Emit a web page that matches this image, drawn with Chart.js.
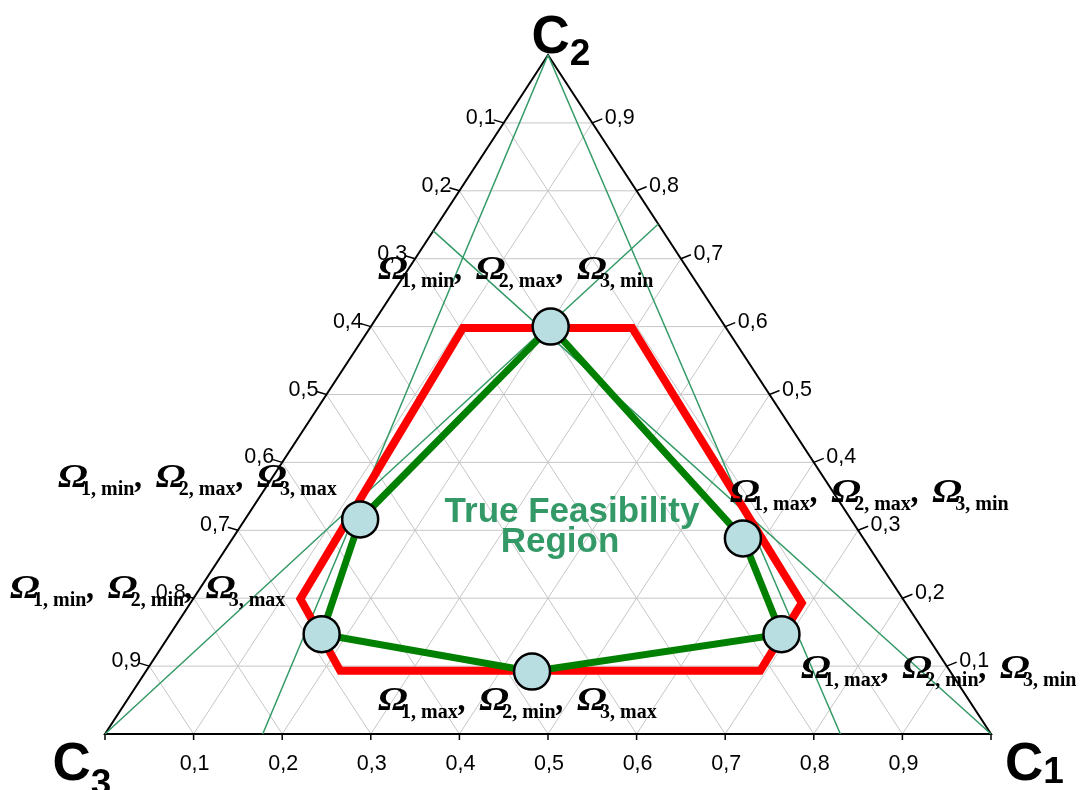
<!DOCTYPE html>
<html>
<head>
<meta charset="utf-8">
<script src="https://cdn.jsdelivr.net/npm/chart.js@4.4.1/dist/chart.umd.min.js"></script>
<style>
  html, body { margin: 0; padding: 0; background: #ffffff; }
  canvas { display: block; }
</style>
</head>
<body>
<canvas id="chart" width="1082" height="790"></canvas>
<script>
// ---- DATA (ternary compositions given as [c1, c2, c3]) ----
const tickValues = [0.1, 0.2, 0.3, 0.4, 0.5, 0.6, 0.7, 0.8, 0.9];
const tickLabels = ['0,1', '0,2', '0,3', '0,4', '0,5', '0,6', '0,7', '0,8', '0,9'];
const vertexNames = ['C1', 'C2', 'C3'];
const vertices = [[1, 0, 0], [0, 1, 0], [0, 0, 1]];

// thin green bound lines (ratio lines from the vertices)
const boundLines = [
  [[0, 1, 0], [0.178, 0, 0.822]],
  [[0, 1, 0], [0.830, 0, 0.170]],
  [[0, 0, 1], [0.249, 0.751, 0]],
  [[1, 0, 0], [0, 0.741, 0.259]]
];

// red polygon
const outerRegion = [
  [0.105, 0.598, 0.297],
  [0.296, 0.598, 0.106],
  [0.690, 0.193, 0.117],
  [0.693, 0.093, 0.214],
  [0.219, 0.093, 0.688],
  [0.121, 0.199, 0.680]
];

// green polygon / corner circles (true feasibility region)
const trueRegion = [
  [0.203, 0.600, 0.197],
  [0.576, 0.288, 0.136],
  [0.690, 0.147, 0.163],
  [0.436, 0.092, 0.472],
  [0.171, 0.147, 0.682],
  [0.130, 0.316, 0.554]
];

// corner labels: bounds of Ω1, Ω2, Ω3 for each corner of trueRegion
const cornerBounds = [
  ['min', 'max', 'min'],
  ['max', 'max', 'min'],
  ['max', 'min', 'min'],
  ['max', 'min', 'max'],
  ['min', 'min', 'max'],
  ['min', 'max', 'max']
];
const regionTitle = ['True Feasibility', 'Region'];

// ---- helpers ----
const toXY = c => ({ x: c[0] + c[1] / 2, y: c[1] });

function lineDataset(points, color, width, order, closed) {
  let pts = points.map(toXY);
  if (closed) pts = pts.concat([pts[0], pts[1]]);
  return {
    data: pts, showLine: true, fill: false,
    borderColor: color, borderWidth: width,
    pointRadius: 0, pointHoverRadius: 0,
    borderJoinStyle: 'miter', borderCapStyle: 'butt',
    tension: 0, order: order, clip: false
  };
}

const datasets = [];
// grid
tickValues.forEach(v => {
  datasets.push(lineDataset([[0, v, 1 - v], [1 - v, v, 0]], '#c6c6c6', 1, 6));
  datasets.push(lineDataset([[v, 0, 1 - v], [v, 1 - v, 0]], '#c6c6c6', 1, 6));
  datasets.push(lineDataset([[1 - v, 0, v], [0, 1 - v, v]], '#c6c6c6', 1, 6));
});
// triangle
datasets.push(lineDataset([vertices[2], vertices[0], vertices[1], vertices[2], vertices[0]], '#000000', 2, 5));
// bound lines
boundLines.forEach(l => datasets.push(lineDataset(l, '#339966', 1.5, 4)));
// red polygon
datasets.push(lineDataset(outerRegion, '#ff0000', 8, 3, true));
// green polygon
datasets.push(lineDataset(trueRegion, '#008000', 7, 2, true));
// circles
datasets.push({
  data: trueRegion.map(toXY), showLine: false,
  pointRadius: 18, pointHoverRadius: 18,
  pointBackgroundColor: '#b9dee2', pointBorderColor: '#000000', pointBorderWidth: 2.5,
  order: 1, clip: false
});

// ---- annotation plugin ----
const textPlugin = {
  id: 'ternaryText',
  afterDatasetsDraw(chart) {
    const ctx = chart.ctx;
    const sx = chart.scales.x, sy = chart.scales.y;
    const px = c => [sx.getPixelForValue(c[0] + c[1] / 2), sy.getPixelForValue(c[1])];
    ctx.save();

    // tick marks and tick labels
    const tickFont = '21.5px "Liberation Sans", Arial, sans-serif';
    ctx.strokeStyle = '#000';
    ctx.lineWidth = 1.5;
    ctx.fillStyle = '#000';
    ctx.font = tickFont;
    ctx.textBaseline = 'alphabetic';
    tickValues.forEach((v, i) => {
      // left edge (C3 share)
      let [x, y] = px([0, 1 - v, v]);
      ctx.beginPath(); ctx.moveTo(x, y); ctx.lineTo(x - 10, y - 3); ctx.stroke();
      ctx.textAlign = 'right';
      ctx.fillText(tickLabels[i], x - 8, y + 1);
      // right edge (C2 share)
      [x, y] = px([1 - v, v, 0]);
      ctx.beginPath(); ctx.moveTo(x, y); ctx.lineTo(x + 10, y - 4); ctx.stroke();
      ctx.textAlign = 'left';
      ctx.fillText(tickLabels[i], x + 12.5, y + 1);
      // bottom edge (C1 share)
      [x, y] = px([v, 0, 1 - v]);
      ctx.beginPath(); ctx.moveTo(x, y); ctx.lineTo(x, y + 6); ctx.stroke();
      ctx.textAlign = 'center';
      ctx.fillText(tickLabels[i], x + 1, y + 36);
    });
    [0, 1].forEach(v => {
      const [x, y] = px([v, 0, 1 - v]);
      ctx.beginPath(); ctx.moveTo(x, y); ctx.lineTo(x, y + 6); ctx.stroke();
    });

    // vertex labels
    const bigFont = 'bold 53px "Liberation Sans", Arial, sans-serif';
    const subFont = 'bold 37px "Liberation Sans", Arial, sans-serif';
    const vertexLayout = [
      { x: 1005, y: 780, dy: 3 },   // C1
      { x: 531.5, y: 53, dy: 12 },  // C2
      { x: 52.5, y: 780, dy: 15 }   // C3
    ];
    ctx.textAlign = 'left';
    vertexNames.forEach((name, i) => {
      const L = vertexLayout[i];
      ctx.font = bigFont;
      ctx.fillText(name[0], L.x, L.y);
      const w = ctx.measureText(name[0]).width;
      ctx.font = subFont;
      ctx.fillText(name.slice(1), L.x + w, L.y + L.dy);
    });

    // corner labels
    const omegaFont = 'italic bold 33px "Liberation Serif", "Times New Roman", serif';
    const omegaSubFont = 'bold 20px "Liberation Serif", "Times New Roman", serif';
    const labelLayout = [
      { x: 378, y: 279 },
      { x: 730, y: 502 },
      { x: 801, y: 678 },
      { x: 378, y: 710 },
      { x: 10, y: 598 },
      { x: 58, y: 487 }
    ];
    cornerBounds.forEach((b, i) => {
      let x = labelLayout[i].x;
      const y = labelLayout[i].y;
      b.forEach((kind, k) => {
        ctx.font = omegaFont;
        ctx.save();
        ctx.translate(x, y);
        ctx.scale(1.2, 1);
        ctx.fillText('Ω', 0, 0);
        ctx.restore();
        const subX = x + 23;
        ctx.font = omegaSubFont;
        const s = (k + 1) + ', ' + kind;
        ctx.fillText(s, subX, y + 8);
        const subEnd = subX + ctx.measureText(s).width;
        if (k < 2) {
          ctx.font = omegaFont;
          ctx.fillText(',', subEnd + 1, y);
        }
        x = subEnd + 21.5;
      });
    });

    // region title
    ctx.fillStyle = '#339966';
    ctx.font = 'bold 35px "Liberation Sans", Arial, sans-serif';
    ctx.textAlign = 'center';
    ctx.fillText(regionTitle[0], 572, 522);
    ctx.fillText(regionTitle[1], 560, 552);

    ctx.restore();
  }
};

new Chart(document.getElementById('chart'), {
  type: 'scatter',
  data: { datasets: datasets },
  options: {
    responsive: false,
    animation: false,
    events: [],
    layout: { padding: 0, autoPadding: false },
    plugins: { legend: { display: false }, tooltip: { enabled: false } },
    scales: {
      x: { type: 'linear', min: -105 / 886, max: 977 / 886, display: false },
      y: { type: 'linear', min: -56 / 679, max: 734 / 679, display: false }
    }
  },
  plugins: [textPlugin]
});
</script>
</body>
</html>
